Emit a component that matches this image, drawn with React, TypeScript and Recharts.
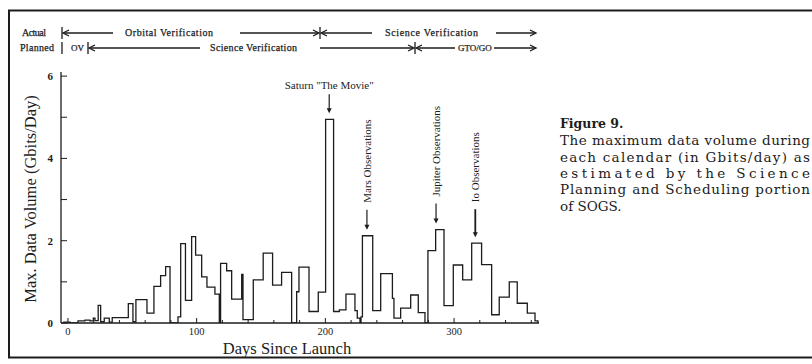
import { LineChart, Line, XAxis, YAxis, ReferenceDot } from "recharts";

// bin start day -> max data volume (Gbits/day), step histogram
const binStartDays = [
  -3.7, 1.6, 7.8, 13.2, 17.1, 19.7, 21.0, 23.5, 25.4, 28.2, 32.1, 34.4, 46.9,
  50.5, 52.8, 61.4, 66.8, 72.0, 75.9, 79.3, 85.5, 87.6, 91.3, 96.1, 99.2, 103.9,
  108.0, 114.2, 117.6, 118.6, 123.3, 127.2, 135.0, 136.0, 144.0, 151.7, 159.0,
  166.0, 173.8, 177.7, 179.5, 187.3, 194.5, 200.2, 206.4, 210.9, 216.0, 223.0,
  224.8, 226.9, 227.7, 228.8, 236.8, 243.0, 252.1, 253.3, 258.5, 266.3, 272.2,
  277.4, 279.7, 285.7, 292.2, 299.4, 306.7, 313.7, 321.4, 329.2, 335.1, 342.9,
  349.1, 356.9, 362.9, 365.2,
];
const dataVolume = [
  0.02, 0, 0.05, 0.07, 0.05, 0.12, 0.06, 0.43, 0.03, 0.12, 0.02, 0.13, 0.47,
  0.03, 0.57, 0.24, 0.89, 1.15, 1.37, 0, 0.15, 1.93, 0.55, 2.1, 1.65, 1.12,
  0.87, 0.7, 0, 1.45, 1.27, 0.58, 1.18, 0.08, 1.05, 1.7, 0.92,
  1.23, 0, 0.76, 1.36, 0.28, 0.75, 4.95, 0.28, 0.32, 0.7, 0.3,
  0.12, 0, 0.15, 2.12, 0.3, 1.2, 0.6, 0.12, 0.36, 0.68, 0.25,
  0, 1.76, 2.27, 0.42, 1.41, 1.05, 1.94, 1.42, 0.2, 0.63, 1.0,
  0.48, 0.24, 0.05, 0,
];

const xTicks = [0, 20, 40, 60, 80, 100, 120, 140, 160, 180, 200, 220, 240, 260, 280, 300, 320, 340, 360];
const xLabels = [0, 100, 200, 300];
const yTicks = [0, 1, 2, 3, 4, 5, 6];
const yLabels = [0, 2, 4, 6];

const annotations = [
  { label: 'Saturn "The Movie"', day: 203, value: 4.95, len: 19, vertical: false, bold: false },
  { label: "Mars Observations", day: 232.3, value: 2.12, len: 20, vertical: true, bold: false },
  { label: "Jupiter Observations", day: 286, value: 2.27, len: 20, vertical: true, bold: false },
  { label: "Io Observations", day: 316.5, value: 1.94, len: 28, vertical: true, bold: true },
];

const SERIF = "'Liberation Serif', 'DejaVu Serif', serif";
const BOOK = "'DejaVu Serif', 'Liberation Serif', serif";
const INK = "#1c1c1c";

const data = binStartDays.map((day, i) => ({ day, v: dataVolume[i] }));

function BottomTick(props: any) {
  const { x, y, payload } = props;
  const major = xLabels.includes(payload.value);
  return (
    <g>
      <line x1={x} y1={y} x2={x} y2={y - (major ? 5 : 3)} stroke={INK} strokeWidth={1} />
      {major && (
        <text x={x} y={y + 12} textAnchor="middle" fontFamily={SERIF} fontSize={10.5} fill={INK}>
          {payload.value}
        </text>
      )}
    </g>
  );
}

function TopTick(props: any) {
  const { x, y, payload } = props;
  const major = xLabels.includes(payload.value);
  return <line x1={x} y1={y} x2={x} y2={y + (major ? 5 : 3)} stroke={INK} strokeWidth={1} />;
}

function LeftTick(props: any) {
  const { x, y, payload } = props;
  const major = yLabels.includes(payload.value);
  return (
    <g>
      <line x1={x} y1={y} x2={x + 6} y2={y} stroke={INK} strokeWidth={1} />
      {major && (
        <text x={x - 8} y={y + 4} textAnchor="end" fontFamily={SERIF} fontSize={11} fontWeight="bold" fill={INK}>
          {payload.value}
        </text>
      )}
    </g>
  );
}

function RightTick(props: any) {
  const { x, y } = props;
  return <line x1={x} y1={y} x2={x - 6} y2={y} stroke={INK} strokeWidth={1} />;
}

function Annotation(props: any) {
  const { cx, cy, a } = props;
  const tip = cy - 6;
  const top = tip - a.len;
  const w = a.bold ? 1.8 : 1.2;
  return (
    <g>
      <line x1={cx} y1={top} x2={cx} y2={tip - 3} stroke={INK} strokeWidth={w} />
      <polygon points={`${cx - 2.5},${tip - 5} ${cx + 2.5},${tip - 5} ${cx},${tip}`} fill={INK} />
      {a.vertical ? (
        <text
          x={cx + 4}
          y={top - 7}
          transform={`rotate(-90 ${cx + 4} ${top - 7})`}
          fontFamily={SERIF}
          fontSize={11}
          fill={INK}
        >
          {a.label}
        </text>
      ) : (
        <text x={cx} y={top - 5} textAnchor="middle" fontFamily={SERIF} fontSize={11} fill={INK}>
          {a.label}
        </text>
      )}
    </g>
  );
}

function Header() {
  const t = { fontFamily: SERIF, fontSize: 10, fill: INK, stroke: INK, strokeWidth: 0.25 };
  const small = { ...t, fontSize: 9 };
  const line = { stroke: INK, strokeWidth: 1.3 };
  const left = (x1: number, x2: number, y: number) => (
    <g>
      <line x1={x1 + 2} y1={y} x2={x2} y2={y} {...line} />
      <polyline points={`${x1 + 7},${y - 3} ${x1 + 1},${y} ${x1 + 7},${y + 3}`} fill="none" {...line} />
    </g>
  );
  const right = (x1: number, x2: number, y: number) => (
    <g>
      <line x1={x1} y1={y} x2={x2 - 2} y2={y} {...line} />
      <polyline points={`${x2 - 7},${y - 3} ${x2 - 1},${y} ${x2 - 7},${y + 3}`} fill="none" {...line} />
    </g>
  );
  const bar = (x: number, y: number) => <line x1={x} y1={y - 6} x2={x} y2={y + 6} {...line} />;
  return (
    <g>
      {/* Actual */}
      <text x={22} y={36} textLength={24} {...t}>Actual</text>
      {bar(62, 33)}
      {left(62, 113, 33)}
      <text x={125} y={36} textLength={88} {...t}>Orbital Verification</text>
      {right(240, 320, 33)}
      {bar(320, 33)}
      {left(320, 372, 33)}
      <text x={385} y={36} textLength={93} {...t}>Science Verification</text>
      {right(496, 537, 33)}
      {/* Planned */}
      <text x={20} y={51} textLength={34} {...t}>Planned</text>
      {bar(62, 48)}
      <text x={71} y={51} {...small}>OV</text>
      {bar(88, 48)}
      {left(88, 200, 48)}
      <text x={210} y={51} textLength={87} {...t}>Science Verification</text>
      {right(320, 415, 48)}
      {bar(415, 48)}
      {left(415, 455, 48)}
      <text x={458} y={51} {...small}>GTO/GO</text>
      {right(494, 537, 48)}
    </g>
  );
}

function Caption() {
  const t = { fontFamily: BOOK, fontSize: 13.5, fill: INK };
  return (
    <g>
      <text x={560} y={128} fontFamily={BOOK} fontSize={12.5} fontWeight="bold" fill={INK}>
        Figure 9.
      </text>
      <text x={560} y={145} textLength={250} lengthAdjust="spacing" {...t}>The maximum data volume during</text>
      <text x={560} y={162} textLength={250} lengthAdjust="spacing" {...t}>each calendar  (in Gbits/day) as</text>
      <text x={560} y={178} textLength={250} lengthAdjust="spacing" {...t}>estimated   by   the   Science</text>
      <text x={560} y={194} textLength={250} lengthAdjust="spacing" {...t}>Planning and Scheduling portion</text>
      <text x={560} y={211} {...t}>of SOGS.</text>
    </g>
  );
}

export default function App() {
  return (
    <div style={{ position: "absolute", left: 0, top: 0, width: 812, height: 364, background: "#fff" }}>
      <LineChart width={812} height={364} data={data} margin={{ top: 72, right: 273, bottom: 0, left: 0 }}>
        <XAxis
          dataKey="day"
          type="number"
          domain={[-5.4, 366]}
          allowDataOverflow
          ticks={xTicks}
          interval={0}
          height={41}
          tickSize={0}
          tickMargin={0}
          tickLine={false}
          tick={<BottomTick />}
          axisLine={{ stroke: INK, strokeWidth: 1.3 }}
        />
        <XAxis
          xAxisId="top"
          orientation="top"
          type="number"
          domain={[-5.4, 366]}
          allowDataOverflow
          ticks={xTicks}
          interval={0}
          height={0}
          tickSize={0}
          tickMargin={0}
          tickLine={false}
          tick={<TopTick />}
          axisLine={{ stroke: INK, strokeWidth: 1.3 }}
        />
        <YAxis
          type="number"
          domain={[0, 6.1]}
          allowDataOverflow
          ticks={yTicks}
          interval={0}
          width={61}
          tickSize={0}
          tickMargin={0}
          tickLine={false}
          tick={<LeftTick />}
          axisLine={{ stroke: INK, strokeWidth: 1.3 }}
        />
        <YAxis
          yAxisId="right"
          orientation="right"
          type="number"
          domain={[0, 6.1]}
          allowDataOverflow
          ticks={yTicks}
          interval={0}
          width={0}
          tickSize={0}
          tickMargin={0}
          tickLine={false}
          tick={<RightTick />}
          axisLine={{ stroke: INK, strokeWidth: 1.3 }}
        />
        <Line
          type="stepAfter"
          dataKey="v"
          dot={false}
          stroke={INK}
          strokeWidth={1.3}
          isAnimationActive={false}
        />
        {annotations.map((a) => (
          <ReferenceDot
            key={a.label}
            x={a.day}
            y={a.value}
            r={0}
            ifOverflow="visible"
            shape={(p: any) => <Annotation {...p} a={a} />}
          />
        ))}
      </LineChart>
      <svg
        width={812}
        height={364}
        style={{ position: "absolute", left: 0, top: 0, pointerEvents: "none" }}
      >
        <rect x={9} y={10.5} width={900} height={347} fill="none" stroke={INK} strokeWidth={2} />
        <Header />
        <text
          x={36}
          y={199}
          transform="rotate(-90 36 199)"
          textAnchor="middle"
          fontFamily={SERIF}
          fontSize={16.5}
          fill={INK}
        >
          Max. Data Volume (Gbits/Day)
        </text>
        <text x={287} y={354} textAnchor="middle" fontFamily={SERIF} fontSize={16.5} fill={INK}>
          Days Since Launch
        </text>
        <Caption />
      </svg>
    </div>
  );
}
